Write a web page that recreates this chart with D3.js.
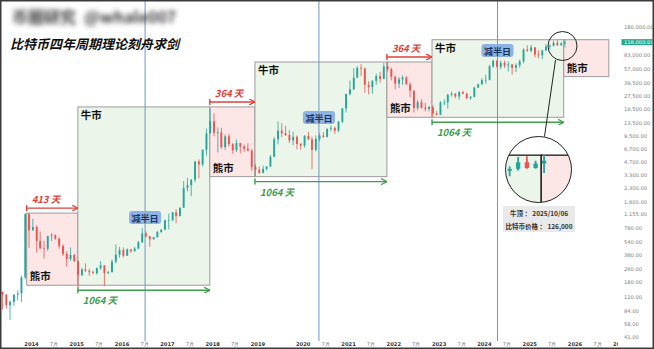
<!DOCTYPE html>
<html>
<head>
<meta charset="utf-8">
<script src="https://cdn.jsdelivr.net/npm/d3@7"></script>
<style>
  html, body { margin: 0; padding: 0; background: #fff; }
  svg { display: block; font-family: "Noto Sans CJK SC", "Noto Sans", sans-serif; }
</style>
</head>
<body>
<div id="btc-cycle"></div>
<script>
// monthly candles, May 2013 .. Oct 2025
const firstOpen = 139;
const close = [
  129, 97, 106, 129, 133, 205, 1130, 730,
  800, 550, 450, 445, 628, 640, 585, 480, 387, 338, 375, 320,
  218, 254, 244, 236, 230, 263, 284, 230, 236, 314, 378, 430,
  368, 437, 416, 448, 530, 673, 624, 574, 608, 700, 742, 960,
  965, 1190, 1080, 1350, 2300, 2480, 2870, 4700, 4340, 6450, 10000, 13850,
  10200, 10300, 6930, 9240, 7490, 6390, 7730, 7030, 6630, 6310, 4040, 3740,
  3460, 3850, 4100, 5330, 8550, 10800, 10080, 9600, 8300, 9150, 7550, 7190,
  9350, 8540, 6420, 8630, 9450, 9140, 11350, 11650, 10780, 13800, 19700, 29000,
  33100, 45200, 58800, 57700, 37300, 35000, 41500, 47100, 43800, 61300, 57000, 46200,
  38500, 43200, 45500, 37700, 31800, 19900, 23300, 20050, 19420, 20500, 17150, 16550,
  23150, 23150, 28500, 29250, 27200, 30500, 29250, 25950, 26950, 34650, 37700, 42300,
  42600, 61200, 71300, 60600, 67500, 62700, 64600, 59000, 63300, 70200, 96400, 93400,
  102400, 84300, 82500, 94200, 104600, 107100, 115700, 108200, 114000, 118000
];
const high = [
  140, 131, 110, 129, 145, 215, 1163, 1165,
  1000, 840, 710, 550, 630, 680, 655, 600, 500, 415, 460, 385,
  320, 265, 300, 260, 247, 268, 318, 285, 245, 333, 500, 468,
  460, 448, 440, 468, 550, 780, 705, 625, 612, 720, 755, 975,
  1150, 1200, 1290, 1350, 2760, 3000, 2920, 4760, 4980, 6450, 11400, 19666,
  17250, 11800, 11700, 9750, 9950, 7760, 8500, 7750, 7400, 7680, 6600, 4380,
  4100, 4200, 4140, 5600, 9100, 13880, 13200, 12300, 10950, 10500, 9500, 7750,
  9600, 10500, 9180, 9480, 10070, 10400, 11450, 12480, 12100, 14100, 19850, 29300,
  41950, 58350, 61800, 64900, 59500, 41300, 42300, 50500, 52900, 67000, 69000, 59100,
  47900, 45800, 48200, 47400, 40000, 31900, 24700, 25200, 22800, 21000, 21500, 18400,
  23950, 25250, 29200, 31000, 29800, 31400, 31800, 30200, 27500, 35200, 38450, 44700,
  49000, 64000, 73800, 72800, 72000, 72000, 70000, 65100, 66500, 73600, 99800, 108300,
  109600, 102800, 95000, 95800, 112000, 110500, 123200, 124500, 117900, 126200
];
const low = [
  86, 88, 65, 95, 110, 105, 196, 456,
  725, 400, 440, 340, 420, 545, 565, 445, 365, 275, 320, 310,
  152, 212, 238, 215, 227, 220, 252, 162, 225, 236, 300, 350,
  350, 366, 398, 412, 440, 520, 605, 470, 570, 605, 680, 742,
  750, 940, 890, 1060, 1340, 2100, 1840, 2670, 2970, 4110, 5520, 10400,
  9300, 6000, 6600, 6430, 7060, 5780, 6070, 5880, 6100, 6200, 3650, 3120,
  3350, 3390, 3680, 4070, 5330, 7450, 9070, 9350, 7750, 7300, 6520, 6430,
  6850, 8450, 3800, 6150, 8100, 8900, 8970, 10540, 9880, 10400, 13200, 17600,
  28100, 32300, 44900, 47000, 30000, 28800, 29300, 37300, 39600, 43300, 53300, 42000,
  32900, 34300, 37200, 37600, 26700, 17600, 18800, 19600, 18150, 18200, 15500, 16300,
  16500, 21400, 19550, 26950, 25800, 24800, 28900, 25300, 24900, 26550, 34100, 37600,
  38500, 41900, 59000, 59600, 56500, 58400, 53500, 49000, 52500, 58900, 66800, 90500,
  89200, 78200, 76600, 74400, 93400, 98200, 105100, 107300, 107300, 102000
];

// cycle boxes
const phaseType  = ["bear", "bull", "bear", "bull", "bear", "bull", "bear"];
const phaseStart = ["2013-11-27", "2015-01-14", "2017-12-13", "2018-12-12", "2021-11-10", "2022-11-09", "2025-10-06"];
const phaseEnd   = ["2015-01-14", "2017-12-13", "2018-12-12", "2021-11-10", "2022-11-09", "2025-10-06", "2026-10-05"];
const phaseTop   = [1165, 20500, 20500, 69000, 69000, 126000, 126000];
const phaseLow   = [166, 166, 3120, 3120, 15500, 15500, 46500];
const phaseDays  = ["413 天", "1064 天", "364 天", "1064 天", "364 天", "1064 天", null];

const halvings = ["2016-07-09", "2020-05-11", "2024-04-20"];

const priceTicks = [41, 58, 84, 120, 180, 260, 380, 540, 780, 1155, 1600, 2300, 3300, 4700,
  6700, 9500, 13500, 19500, 27500, 39500, 57000, 83000, 119000, 180000];
const lastPrice = 118000;

const topDate = "2025/10/06";
const topPrice = "126,000";

(function btc_cycle() {
  const width = 654, height = 349;
  const parse = d3.utcParse("%Y-%m-%d");

  const svg = d3.select("#btc-cycle")
    .append("svg")
    .attr("width", width)
    .attr("height", height)
    .attr("viewBox", [0, 0, width, height]);

  const defs = svg.append("defs");
  defs.append("filter").attr("id", "smear")
    .append("feGaussianBlur").attr("stdDeviation", 2.4);
  defs.append("clipPath").attr("id", "plot-clip")
    .append("rect").attr("x", 0).attr("y", 0).attr("width", 620).attr("height", 341);
  defs.append("clipPath").attr("id", "lens-clip")
    .append("circle").attr("cx", 538.5).attr("cy", 169.5).attr("r", 33);

  ["red", "green"].forEach(c => {
    defs.append("marker")
      .attr("id", "head-" + c)
      .attr("viewBox", "0 0 10 10")
      .attr("refX", 9).attr("refY", 5)
      .attr("markerWidth", 4.5).attr("markerHeight", 4.5)
      .attr("orient", "auto")
      .append("path")
      .attr("d", "M0,0L10,5L0,10")
      .attr("fill", "none")
      .attr("stroke", c == "red" ? "#e0403a" : "#3d9e4c")
      .attr("stroke-width", 2);
  });

  svg.append("rect").attr("width", width).attr("height", height).attr("fill", "#fff");

  const x = d3.scaleUtc()
    .domain([new Date(Date.UTC(2014, 0, 1)), new Date(Date.UTC(2026, 0, 1))])
    .range([31, 574.5]);
  const y = d3.scaleLog()
    .domain([41, 180000])
    .range([337, 26.5]);

  const months = d3.utcMonths(new Date(Date.UTC(2013, 4, 1)), new Date(Date.UTC(2025, 10, 1)));
  const candles = months.map((m, i) => ({
    date: d3.utcDay.offset(m, 15),
    open: i == 0 ? firstOpen : close[i - 1],
    high: high[i],
    low: low[i],
    close: close[i]
  }));

  const phases = phaseType.map((t, i) => ({
    type: t,
    start: parse(phaseStart[i]),
    end: parse(phaseEnd[i]),
    top: phaseTop[i],
    low: phaseLow[i],
    days: phaseDays[i]
  }));

  // boxes + candles, reused for the magnifier
  function drawBoxes(g, sw) {
    g.selectAll("rect.phase")
      .data(phases)
      .join("rect")
      .attr("class", "phase")
      .attr("x", d => x(d.start))
      .attr("y", d => y(d.top))
      .attr("width", d => x(d.end) - x(d.start))
      .attr("height", d => y(d.low) - y(d.top))
      .attr("fill", d => d.type == "bull" ? "#ebf5e9" : "#fce6e6")
      .attr("stroke", sw < 1 ? "#222" : "#9c9c9c")
      .attr("stroke-width", sw);
  }

  function drawCandles(g, bw) {
    const c = g.selectAll("g.candle")
      .data(candles)
      .join("g")
      .attr("class", "candle")
      .attr("stroke", d => d.close >= d.open ? "#26a69a" : "#ef5350")
      .attr("fill", d => d.close >= d.open ? "#26a69a" : "#ef5350");
    c.append("line")
      .attr("x1", d => x(d.date)).attr("x2", d => x(d.date))
      .attr("y1", d => y(d.high)).attr("y2", d => y(d.low))
      .attr("stroke-width", 0.8);
    c.append("rect")
      .attr("x", d => x(d.date) - bw / 2)
      .attr("width", bw)
      .attr("y", d => Math.min(y(d.open), y(d.close)))
      .attr("height", d => Math.max(0.6, Math.abs(y(d.open) - y(d.close))))
      .attr("stroke", "none");
  }

  const plot = svg.append("g").attr("clip-path", "url(#plot-clip)");
  drawBoxes(plot, 1);

  plot.append("g")
    .selectAll("line")
    .data(halvings)
    .join("line")
    .attr("x1", d => x(parse(d))).attr("x2", d => x(parse(d)))
    .attr("y1", 0).attr("y2", 342)
    .attr("stroke", "#6f95c8")
    .attr("stroke-width", 1);

  drawCandles(plot.append("g"), 1.9);

  // day-count arrows
  const ann = svg.append("g");
  phases.filter(d => d.days).forEach(d => {
    const red = d.type == "bear";
    const col = red ? "#e0403a" : "#3d9e4c";
    const ay = red ? y(d.top) - 5 : y(d.low) + 5;
    const x0 = x(d.start), x1 = x(d.end);
    ann.append("line")
      .attr("x1", x0).attr("x2", x0)
      .attr("y1", ay - 3).attr("y2", ay + 3)
      .attr("stroke", col).attr("stroke-width", 1.4);
    ann.append("line")
      .attr("x1", x0).attr("x2", x1 - 0.5)
      .attr("y1", ay).attr("y2", ay)
      .attr("stroke", col).attr("stroke-width", 1.4)
      .attr("marker-end", `url(#head-${red ? "red" : "green"})`);
    ann.append("text")
      .attr("x", x0 + 5)
      .attr("y", red ? ay - 5 : ay + 14)
      .attr("fill", col)
      .attr("font-size", 9.5)
      .attr("font-weight", 700)
      .attr("font-style", "italic")
      .text(d.days);
  });

  // 牛市 / 熊市 labels
  ann.selectAll("text.phase-label")
    .data(phases)
    .join("text")
    .attr("class", "phase-label")
    .attr("x", d => x(d.start) + 3)
    .attr("y", d => d.type == "bull" ? y(d.top) + 12 : y(d.low) - 5)
    .attr("font-size", 10.5)
    .attr("font-weight", 700)
    .attr("fill", "#111")
    .text(d => d.type == "bull" ? "牛市" : "熊市");

  // 减半日 badges
  const badgeY = [218, 118, 51];
  halvings.forEach((h, i) => {
    const hx = x(parse(h));
    ann.append("rect")
      .attr("x", hx - 16).attr("y", badgeY[i] - 7)
      .attr("width", 32).attr("height", 13)
      .attr("rx", 3)
      .attr("fill", "#8db2e4");
    ann.append("text")
      .attr("x", hx).attr("y", badgeY[i] + 3.5)
      .attr("text-anchor", "middle")
      .attr("font-size", 9)
      .attr("font-weight", 700)
      .attr("fill", "#16325f")
      .text("减半日");
  });

  // magnifier
  const k = 33 / 14.5;
  const lens = svg.append("g").attr("clip-path", "url(#lens-clip)");
  lens.append("circle").attr("cx", 538.5).attr("cy", 169.5).attr("r", 33).attr("fill", "#fff");
  const inner = lens.append("g")
    .attr("transform", `translate(538.5,169.5) scale(${k}) translate(-562.5,-46)`);
  drawBoxes(inner, 0.6);
  drawCandles(inner, 1.9);

  svg.append("circle")
    .attr("cx", 562.5).attr("cy", 46).attr("r", 14.5)
    .attr("fill", "none").attr("stroke", "#222").attr("stroke-width", 1);
  svg.append("line")
    .attr("x1", 555.5).attr("y1", 60)
    .attr("x2", 544.5).attr("y2", 136.5)
    .attr("stroke", "#222").attr("stroke-width", 1);
  svg.append("circle")
    .attr("cx", 538.5).attr("cy", 169.5).attr("r", 33)
    .attr("fill", "none").attr("stroke", "#222").attr("stroke-width", 1);

  const note = svg.append("g");
  note.append("rect")
    .attr("x", 503).attr("y", 206).attr("width", 72).attr("height", 26)
    .attr("fill", "#e9e9e9");
  note.append("text")
    .attr("x", 539).attr("y", 216).attr("text-anchor", "middle")
    .attr("font-size", 6.5).attr("font-weight", 700).attr("fill", "#333")
    .text(`牛顶 ： ${topDate}`);
  note.append("text")
    .attr("x", 539).attr("y", 228.5).attr("text-anchor", "middle")
    .attr("font-size", 6.5).attr("font-weight", 700).attr("fill", "#333")
    .text(`比特币价格 ： ${topPrice}`);

  // time axis
  const xTicks = [];
  d3.range(2014, 2028).forEach(yr => {
    xTicks.push(new Date(Date.UTC(yr, 0, 1)));
    if (yr != 2019 && yr < 2027) xTicks.push(new Date(Date.UTC(yr, 6, 1)));
  });
  defs.append("clipPath").attr("id", "axis-clip")
    .append("rect").attr("x", 0).attr("y", -10).attr("width", 618).attr("height", 20);
  const xAxis = svg.append("g")
    .attr("clip-path", "url(#axis-clip)")
    .attr("transform", "translate(0,342)")
    .call(d3.axisBottom(x)
      .tickValues(xTicks)
      .tickSize(0)
      .tickPadding(0)
      .tickFormat(d => d.getUTCMonth() == 0 ? d.getUTCFullYear() : "7月"));
  xAxis.select(".domain").remove();
  xAxis.selectAll("text")
    .attr("font-size", 5.2)
    .attr("font-family", "DejaVu Sans")
    .attr("fill", d => d.getUTCMonth() == 0 ? "#333" : "#777")
    .attr("font-weight", d => d.getUTCMonth() == 0 ? 700 : 400);

  // price axis
  const yAxis = svg.append("g")
    .attr("transform", "translate(624,0)")
    .call(d3.axisRight(y)
      .tickValues(priceTicks)
      .tickSize(0)
      .tickPadding(0)
      .tickFormat(d3.format(",.2f")));
  yAxis.select(".domain").remove();
  yAxis.selectAll("text")
    .attr("font-size", 5.2)
    .attr("font-family", "DejaVu Sans")
    .attr("fill", "#808080");

  svg.append("rect")
    .attr("x", 621.5).attr("y", y(lastPrice) - 3)
    .attr("width", 31).attr("height", 6)
    .attr("fill", "#22a88c");
  svg.append("text")
    .attr("x", 624).attr("y", y(lastPrice) + 1.8)
    .attr("font-size", 5.2)
    .attr("font-family", "DejaVu Sans")
    .attr("fill", "#fff")
    .text(d3.format(",.2f")(lastPrice));

  // header (blurred account name)
  svg.append("text")
    .attr("x", 12).attr("y", 23)
    .attr("font-size", 16).attr("font-weight", 700)
    .attr("fill", "#3c3c3c")
    .attr("filter", "url(#smear)")
    .text("币圈研究");
  svg.append("text")
    .attr("x", 84).attr("y", 23)
    .attr("font-size", 16).attr("font-weight", 700)
    .attr("fill", "#3c3c3c")
    .attr("filter", "url(#smear)")
    .text("@whale007");
  svg.append("text")
    .attr("x", 10).attr("y", 49)
    .attr("font-size", 13).attr("font-weight", 700)
    .attr("font-style", "italic")
    .attr("fill", "#111")
    .text("比特币四年周期理论刻舟求剑");

  svg.append("rect")
    .attr("x", 0.75).attr("y", 0.75)
    .attr("width", width - 1.5).attr("height", height - 1.5)
    .attr("fill", "none").attr("stroke", "#3a3a3a").attr("stroke-width", 1.5);
})();
</script>
</body>
</html>
